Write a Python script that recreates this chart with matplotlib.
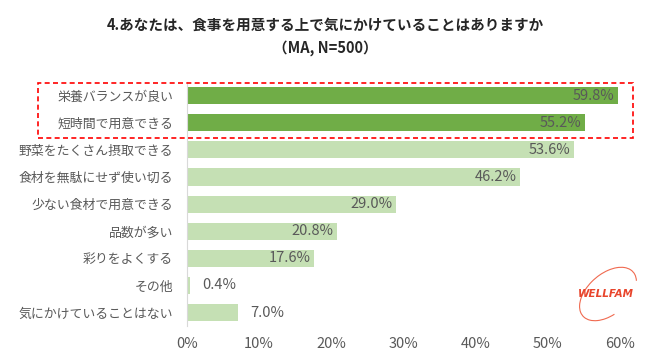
import matplotlib.pyplot as plt
from matplotlib.patches import Rectangle, Arc

plt.rcParams['font.family'] = ['Noto Sans CJK JP', 'DejaVu Sans']

# data
categories = ["栄養バランスが良い", "短時間で用意できる", "野菜をたくさん摂取できる",
              "食材を無駄にせず使い切る", "少ない食材で用意できる", "品数が多い",
              "彩りをよくする", "その他", "気にかけていることはない"]
values = [59.8, 55.2, 53.6, 46.2, 29.0, 20.8, 17.6, 0.4, 7.0]
highlight = [True, True, False, False, False, False, False, False, False]
xticks = [0, 10, 20, 30, 40, 50, 60]

dark = "#70AD47"
light = "#C5E0B4"
gray = "#595959"

fig = plt.figure(figsize=(6.5, 3.6), dpi=100)
ax = fig.add_axes([0.2877, 0.094, 0.666, 0.678])

ypos = list(range(len(categories)))
colors = [dark if h else light for h in highlight]
ax.barh(ypos, values, height=0.63, color=colors)
ax.set_ylim(len(categories) - 0.5, -0.5)
ax.set_xlim(0, 60)
ax.set_yticks(ypos)
ax.set_yticklabels(categories, fontsize=9.3, color=gray)
ax.set_xticks(xticks)
ax.set_xticklabels([f"{t}%" for t in xticks], fontsize=10.5, color=gray)
ax.tick_params(axis='both', length=0)
ax.tick_params(axis='y', pad=10)
ax.tick_params(axis='x', pad=8)
for s in ["top", "right", "bottom"]:
    ax.spines[s].set_visible(False)
ax.spines["left"].set_color("#D9D9D9")

for y, v in zip(ypos, values):
    if v > 10:
        ax.text(v - 0.5, y, f"{v:.1f}%", ha="right", va="center", fontsize=10.5, color=gray)
    else:
        ax.text(v + 1.7, y, f"{v:.1f}%", ha="left", va="center", fontsize=10.5, color=gray)

fig.text(0.5, 0.932, "4.あなたは、食事を用意する上で気にかけていることはありますか",
         ha="center", va="center", fontsize=10.5, fontweight="bold", color="#262626")
fig.text(0.5, 0.867, "（MA, N=500）", ha="center", va="center",
         fontsize=10.5, fontweight="bold", color="#262626")

# red dashed highlight box
fig.patches.append(Rectangle((38 / 650, 1 - 138 / 360), 595 / 650, 55 / 360,
                             transform=fig.transFigure, fill=False,
                             edgecolor="#FF0000", linestyle=(0, (3, 2)), linewidth=1.2))

# logo
fig.text(606 / 650, 1 - 294 / 360, "WELLFAM", ha="center", va="center",
         fontsize=7.5, fontweight="bold", style="italic", color="#E8452C",
         family="DejaVu Sans")
fig.patches.append(Arc((608 / 650, 1 - 294 / 360), 48 / 650, 56 / 360, angle=-20,
                       theta1=60, theta2=300, transform=fig.transFigure,
                       color="#F06A50", linewidth=0.8))

fig.savefig("out.png", dpi=100)
